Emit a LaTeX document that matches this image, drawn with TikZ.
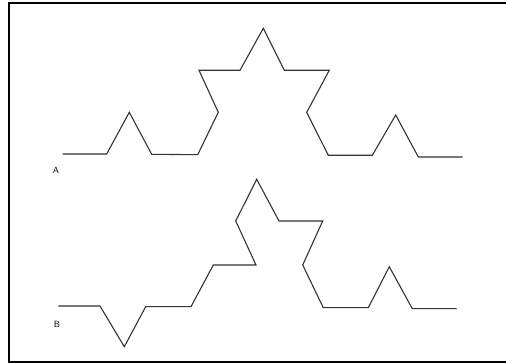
\documentclass[tikz,border=0pt]{standalone}
\usepackage{tikz}
\usetikzlibrary{positioning}

\begin{document}
\begin{tikzpicture}[
    x=1pt, y=-1pt,
    frame/.style={draw=black, line width=2pt},
    curve/.style={draw=black!80, line width=1.1pt, line join=miter},
    tag/.style={font=\sffamily\small, inner sep=0pt},
  ]
  \useasboundingbox (0,0) rectangle (506,363);

  % Frame (right side runs off the page)
  \draw[frame] (507,3.5) -- (9,3.5) -- (9,361.5) -- (507,361.5);

  % Curve A
  \draw[curve] (62.7,154) -- (106.7,154) -- (129.3,112.3) -- (151.7,154.3)
    -- (197.7,154.7) -- (218.3,112.3) -- (199,70.3) -- (240,70.3)
    -- (263.3,28.3) -- (284.3,70.3) -- (329.3,70.3) -- (306.7,112.3)
    -- (328.3,155.3) -- (372.3,155.3) -- (395.7,115) -- (418.3,157)
    -- (462.7,157);

  % Curve B
  \draw[curve] (58.3,306) -- (100,306) -- (124.3,346.7) -- (145.7,306.7)
    -- (191,306.7) -- (213.3,265) -- (256,265) -- (235.7,221)
    -- (256.7,179.3) -- (279,221) -- (322.7,221) -- (302.7,265)
    -- (323.3,307.7) -- (368.3,307.7) -- (389.3,266.7) -- (412.3,308.7)
    -- (456.7,308.7);

  % Labels
  \node[tag] (labA) at (56,170.5) {A};
  \node[tag] (labB) at (57,324.3) {B};
\end{tikzpicture}
\end{document}
